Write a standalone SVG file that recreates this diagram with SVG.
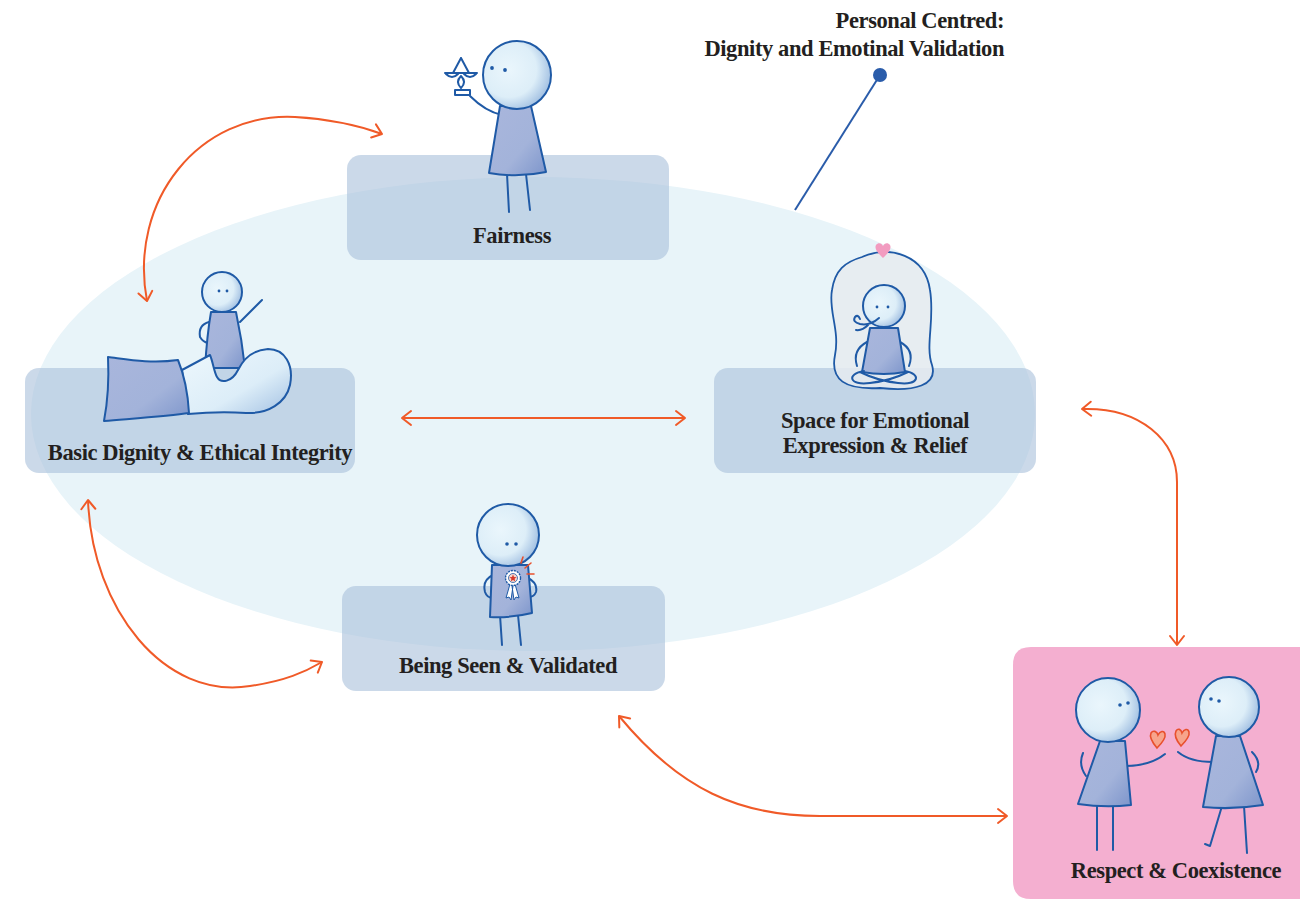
<svg xmlns="http://www.w3.org/2000/svg" width="1300" height="899" viewBox="0 0 1300 899">
  <defs>
    <style>
      .label { font-family: "Liberation Serif", "Times New Roman", serif; font-weight: bold; font-size: 22.5px; fill: #231f20; letter-spacing: -0.4px; }
      .box { fill: rgb(169,191,218); fill-opacity: 0.6; }
      .ink { stroke: #1f5aa6; stroke-width: 2; fill: none; stroke-linecap: round; stroke-linejoin: round; }
      .head { fill: url(#headGrad); stroke: #1f5aa6; stroke-width: 2; }
      .body { fill: url(#bodyGrad); stroke: #1f5aa6; stroke-width: 2; stroke-linejoin: round; }
      .eye { fill: #1f5aa6; }
      .conn { stroke: #f05a28; stroke-width: 2; fill: none; }
      .red { stroke: #e8502d; stroke-width: 1.6; fill: none; stroke-linecap: round; }
    </style>
    <radialGradient id="headGrad" cx="0.38" cy="0.42" r="0.68">
      <stop offset="0" stop-color="#eaf6fc"/>
      <stop offset="0.6" stop-color="#ddeef8"/>
      <stop offset="1" stop-color="#98b8de"/>
    </radialGradient>
    <linearGradient id="bodyGrad" x1="0" y1="0" x2="1" y2="1">
      <stop offset="0" stop-color="#a9b6dc"/>
      <stop offset="0.6" stop-color="#a3b3da"/>
      <stop offset="1" stop-color="#7d95cb"/>
    </linearGradient>
    <linearGradient id="palmGrad" x1="0" y1="0" x2="1" y2="1">
      <stop offset="0" stop-color="#eef8fd"/>
      <stop offset="0.6" stop-color="#dcedf8"/>
      <stop offset="1" stop-color="#a2c0e2"/>
    </linearGradient>
    <marker id="chev" viewBox="-11 -9 13 18" refX="0" refY="0" markerWidth="13" markerHeight="18" markerUnits="userSpaceOnUse" orient="auto-start-reverse">
      <path d="M -9 -7 L 0 0 L -9 7" fill="none" stroke="#f05a28" stroke-width="2" stroke-linecap="round" stroke-linejoin="round"/>
    </marker>
  </defs>

  <rect width="1300" height="899" fill="#ffffff"/>

  <!-- background field -->
  <ellipse cx="533" cy="414" rx="502" ry="237" fill="#e8f4f9"/>

  <!-- callout -->
  <g id="callout">
    <text class="label" x="1004" y="28" text-anchor="end">Personal Centred:</text>
    <text class="label" x="1004" y="56" text-anchor="end">Dignity and Emotinal Validation</text>
    <line x1="880" y1="75" x2="795" y2="210" stroke="#2a5caa" stroke-width="2"/>
    <circle cx="880" cy="75" r="7" fill="#2a5caa"/>
  </g>

  <!-- connectors -->
  <g id="connectors">
    <path class="conn" d="M147,301 C128,200 200,112 295,117 C330,119 360,126 382,134" marker-start="url(#chev)" marker-end="url(#chev)"/>
    <path class="conn" d="M402,418 L685,418" marker-start="url(#chev)" marker-end="url(#chev)"/>
    <path class="conn" d="M1082,409 C1140,407 1177,440 1177,482 L1177,645" marker-start="url(#chev)" marker-end="url(#chev)"/>
    <path class="conn" d="M619,716 C680,790 740,816 820,816 L1007,816" marker-start="url(#chev)" marker-end="url(#chev)"/>
    <path class="conn" d="M88,500 C92,610 165,700 250,686 C285,681 305,672 322,662" marker-start="url(#chev)" marker-end="url(#chev)"/>
  </g>

  <!-- Fairness -->
  <g id="fairness">
    <rect class="box" x="347" y="155" width="322" height="105" rx="14"/>
    <path class="ink" d="M507,174 L509,212 M526,174 L530,210"/>
    <path class="ink" d="M502,115 C488,112 478,104 470,96"/>
    <path class="body" d="M500,106 L531,106 L546,172 Q518,178 489,173 Z"/>
    <circle class="head" cx="517" cy="75" r="34"/>
    <circle class="eye" cx="492" cy="68" r="1.9"/>
    <circle class="eye" cx="505" cy="70" r="1.9"/>
    <g class="ink" stroke-width="1.6">
      <path d="M461,58 L453,73 M461,58 L469,73 M445,73 L477,73"/>
      <path d="M446,74 Q452,80 458,74 M464,74 Q470,80 476,74"/>
      <path d="M461,76 Q455,82 461,88 Q467,82 461,76"/>
      <rect x="455" y="90" width="15" height="5"/>
    </g>
    <text class="label" x="512" y="243" text-anchor="middle">Fairness</text>
  </g>

  <!-- Basic Dignity & Ethical Integrity -->
  <g id="dignity">
    <rect class="box" x="25" y="368" width="330" height="105" rx="14"/>
    <path class="ink" d="M240,322 L262,300"/>
    <path class="ink" d="M209,322 Q198,325 200,337 Q203,342 208,343"/>
    <path class="body" d="M211,312 L236,312 Q242,340 245,368 L205,368 Q207,335 211,312 Z"/>
    <circle class="head" cx="222" cy="292" r="20"/>
    <circle class="eye" cx="219" cy="291" r="1.4"/>
    <circle class="eye" cx="227" cy="291" r="1.4"/>
    <path d="M182,370 L210,355 C213,362 214,372 217,377 C221,384 232,382 238,370 C243,360 252,350 268,349 C285,349 294,365 290,385 C286,403 268,414 246,413 C230,412 210,412 188,414 Z" fill="url(#palmGrad)" stroke="#1f5aa6" stroke-width="2" stroke-linejoin="round"/>
    <path class="body" d="M108,357 C125,359 150,364 178,360 C185,377 188,395 189,413 C170,416 140,418 104,421 C108,400 109,378 108,357 Z"/>
    <text class="label" x="200" y="460" text-anchor="middle">Basic Dignity &amp; Ethical Integrity</text>
  </g>

  <!-- Space for Emotional Expression & Relief -->
  <g id="emotional">
    <rect class="box" x="714" y="368" width="322" height="105" rx="14"/>
    <path d="M862,257 C890,245 925,255 930,290 C935,320 925,345 932,365 C938,385 915,392 880,388 C845,390 830,380 835,355 C840,330 828,310 832,290 C835,270 845,262 862,257 Z" fill="#e6ebf0" fill-opacity="0.85" stroke="#1f5aa6" stroke-width="1.8"/>
    <path d="M883,258 C878,253 874,249 876,245 C878,242 882,243 883,246 C884,243 888,242 890,245 C892,249 888,253 883,258 Z" fill="#f29bc0"/>
    <path class="ink" d="M867,342 Q852,350 857,366 M900,342 Q915,350 909,366" stroke-width="1.6"/>
    <path class="body" d="M870,328 L898,328 L905,372 Q884,376 862,372 Z" stroke-width="1.6"/>
    <path class="ink" stroke-width="1.6" d="M864,371 C846,374 849,386 870,383 C888,381 900,376 908,372 M905,371 C922,374 919,386 898,383 C880,381 868,376 860,372"/>
    <circle class="head" cx="884" cy="306" r="21" stroke-width="1.8"/>
    <circle class="eye" cx="877" cy="307" r="1.4"/>
    <circle class="eye" cx="888" cy="307" r="1.4"/>
    <path class="ink" stroke-width="1.4" d="M879,318 Q870,326 860,324 Q852,322 855,317 Q858,314 860,319 M868,325 Q862,331 856,330"/>
    <text class="label" x="875" y="428" text-anchor="middle">Space for Emotional</text>
    <text class="label" x="875" y="453" text-anchor="middle">Expression &amp; Relief</text>
  </g>

  <!-- Being Seen & Validated -->
  <g id="seen">
    <rect class="box" x="342" y="586" width="323" height="105" rx="14"/>
    <path class="ink" d="M500,615 L502,645 M518,615 L521,645"/>
    <path class="ink" d="M493,575 Q482,580 485,592 Q487,598 493,598 M528,578 Q538,583 536,592 Q534,597 529,597"/>
    <path class="body" d="M492,565 L528,565 L532,613 Q512,618 490,617 Z"/>
    <circle class="head" cx="508" cy="535" r="31"/>
    <circle class="eye" cx="507" cy="544" r="1.8"/>
    <circle class="eye" cx="516" cy="544" r="1.8"/>
    <path d="M510,584 L506,598 L509,597 L511,600 L513,586 Z M515,584 L519,598 L516,597 L514,600 L512,586 Z" fill="#ffffff" stroke="#1f5aa6" stroke-width="1"/>
    <circle cx="513" cy="578" r="7.5" fill="#ffffff" stroke="#1f5aa6" stroke-width="1.4" stroke-dasharray="2 1"/>
    <circle cx="513" cy="578" r="4.5" fill="#f6d6cc" stroke="#1f5aa6" stroke-width="0.8"/>
    <path d="M513,574.5 L514,577 L516.5,577.2 L514.6,578.8 L515.2,581.3 L513,580 L510.8,581.3 L511.4,578.8 L509.5,577.2 L512,577 Z" fill="#d8392a"/>
    <path class="red" d="M521,563 L523,557 M525,568 L531,563 M527,574 L534,574"/>
    <text class="label" x="508" y="673" text-anchor="middle">Being Seen &amp; Validated</text>
  </g>

  <!-- Respect & Coexistence -->
  <g id="respect">
    <path d="M1031,647 L1300,647 L1300,899 L1031,899 Q1013,899 1013,881 L1013,665 Q1013,647 1031,647 Z" fill="#f4afd0"/>
    <path class="ink" d="M1097,804 L1097,850 M1113,804 L1113,850"/>
    <path class="ink" d="M1125,766 Q1150,766 1165,754 M1083,753 Q1078,765 1086,776"/>
    <path class="body" d="M1100,741 L1125,741 L1131,805 Q1105,808 1078,804 Z"/>
    <circle class="head" cx="1108" cy="710" r="32"/>
    <circle class="eye" cx="1120" cy="705" r="1.8"/>
    <circle class="eye" cx="1128" cy="703" r="1.8"/>
    <path class="ink" d="M1222,806 L1210,846 L1205,844 M1244,806 L1247,853"/>
    <path class="ink" d="M1213,762 Q1190,762 1178,752 M1252,752 Q1262,762 1256,772"/>
    <path class="body" d="M1216,736 L1240,736 L1263,805 Q1232,810 1203,807 Z"/>
    <circle class="head" cx="1229" cy="707" r="30"/>
    <circle class="eye" cx="1211" cy="699" r="1.8"/>
    <circle class="eye" cx="1219" cy="701" r="1.8"/>
    <path d="M1157,748 C1152,742 1149,737 1151,733 C1153,730 1157,731 1158,735 C1160,731 1164,730 1165,734 C1166,738 1161,744 1157,748 Z" fill="#f7a48c" stroke="#e8502d" stroke-width="1.6"/>
    <path d="M1181,746 C1176,740 1174,735 1176,731 C1178,728 1181,729 1182,733 C1184,729 1188,728 1189,732 C1190,736 1185,742 1181,746 Z" fill="#f7a48c" stroke="#e8502d" stroke-width="1.6"/>
    <text class="label" x="1176" y="878" text-anchor="middle">Respect &amp; Coexistence</text>
  </g>
</svg>
